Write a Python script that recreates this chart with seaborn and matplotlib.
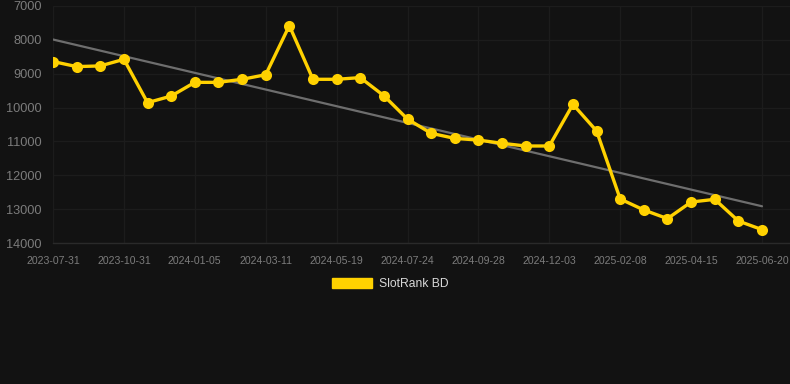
import matplotlib
matplotlib.use("Agg")
import matplotlib.pyplot as plt
from matplotlib.patches import Patch
import numpy as np
import pandas as pd
import seaborn as sns

# Rank values over time (lower number = better rank)
dates = [
    "2023-07-31", "", "", "2023-10-31", "", "", "2024-01-05", "", "", "2024-03-11",
    "", "", "2024-05-19", "", "", "2024-07-24", "", "", "2024-09-28", "",
    "", "2024-12-03", "", "", "2025-02-08", "", "", "2025-04-15", "", "",
    "2025-06-20",
]
ranks = [
    8640, 8790, 8770, 8575, 9855, 9660, 9255, 9255, 9165, 9030,
    7580, 9165, 9165, 9115, 9650, 10340, 10760, 10910, 10960, 11055,
    11135, 11135, 9905, 10690, 12700, 13025, 13280, 12790, 12710, 13350,
    13605,
]
series_name = "SlotRank BD"

BG = "#121212"
YELLOW = "#FFD100"
GRID = "#1c1c1c"
TICK = "#7c7c7c"

df = pd.DataFrame({"idx": np.arange(len(ranks)), "rank": ranks})

sns.set_style("dark")
plt.rcParams["font.family"] = ["Liberation Sans", "DejaVu Sans"]

fig = plt.figure(figsize=(7.9, 3.84), dpi=100, facecolor=BG)
ax = fig.add_axes([53 / 790, 1 - 243 / 384, (790 - 53) / 790, (243 - 6) / 384])
ax.set_facecolor(BG)

# trend line (least squares fit)
coef = np.polyfit(df["idx"], df["rank"], 1)
ax.plot(df["idx"], np.polyval(coef, df["idx"]), color="#6e6e6e", lw=1.6, zorder=2)

sns.lineplot(data=df, x="idx", y="rank", ax=ax, color=YELLOW, lw=2.4,
             marker="o", markersize=8, markeredgewidth=0, zorder=3)

step = (762 - 53) / 30
ax.set_xlim(0, (790 - 53) / step)
ax.set_ylim(14000, 7000)
ax.set_yticks(range(7000, 14001, 1000))
tick_pos = [i for i, d in enumerate(dates) if d]
ax.set_xticks(tick_pos)
ax.set_xticklabels([dates[i] for i in tick_pos])
ax.tick_params(axis="x", colors=TICK, labelsize=7.6, length=0, pad=9)
ax.tick_params(axis="y", colors=TICK, labelsize=9.2, length=0, pad=8)
ax.set_xlabel("")
ax.set_ylabel("")
ax.grid(True, color=GRID, lw=1)
for s in ["top", "right", "left"]:
    ax.spines[s].set_visible(False)
ax.spines["bottom"].set_color("#2a2a2a")
ax.spines["bottom"].set_linewidth(1)

fig.legend(handles=[Patch(facecolor=YELLOW, edgecolor=YELLOW, label=series_name)],
           loc="center", bbox_to_anchor=(390 / 790, 1 - 284 / 384), frameon=False,
           handlelength=3.3, handleheight=0.9, fontsize=8.7, labelcolor="#d8d8d8",
           handletextpad=0.6)

fig.savefig("out.png", dpi=100, facecolor=BG)
